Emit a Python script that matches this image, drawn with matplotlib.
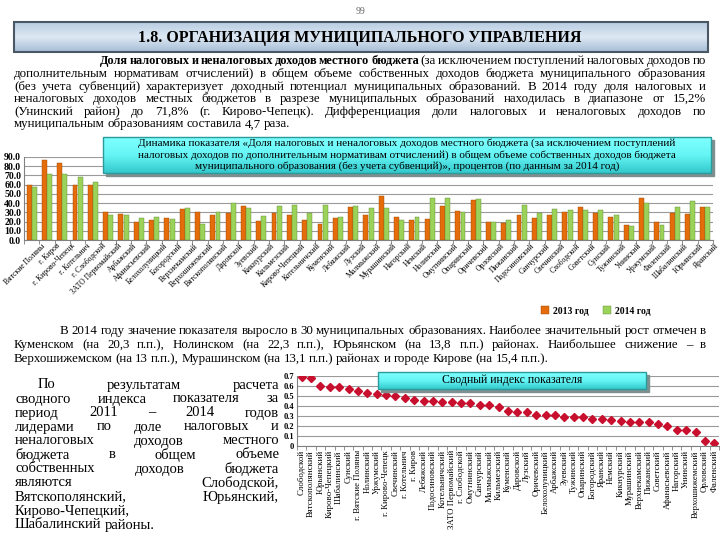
import matplotlib.pyplot as plt
import matplotlib.transforms as mtransforms
import numpy as np

plt.rcParams['font.family'] = ['Liberation Serif', 'DejaVu Serif']

# ---- data: share of tax and non-tax revenues, % ----
districts = ['Вятские Поляны', 'г. Киров', 'г. Кирово-Чепецк', 'г. Котельнич', 'г. Слободской',
             'ЗАТО Первомайский', 'Арбажский', 'Афанасьевский', 'Белохолуницкий', 'Богородский',
             'Верхнекамский', 'Верхошижемский', 'Вятскополянский', 'Даровской', 'Зуевский',
             'Кикнурский', 'Кильмезский', 'Кирово-Чепецкий', 'Котельничский', 'Куменский',
             'Лебяжский', 'Лузский', 'Малмыжский', 'Мурашинский', 'Нагорский', 'Немский',
             'Нолинский', 'Омутнинский', 'Опаринский', 'Оричевский', 'Орловский', 'Пижанский',
             'Подосиновский', 'Санчурский', 'Свечинский', 'Слободской', 'Советский', 'Сунский',
             'Тужинский', 'Унинский', 'Уржумский', 'Фаленский', 'Шабалинский', 'Юрьянский',
             'Яранский']
share_2013 = [60.0, 86.9, 83.8, 59.6, 59.6, 30.0, 27.8, 19.4, 21.8, 23.8, 33.8, 30.0, 27.5,
              29.5, 36.8, 20.5, 28.8, 27.0, 21.6, 17.5, 24.3, 36.0, 27.0, 47.5, 24.8, 21.8,
              23.0, 36.8, 31.5, 43.4, 19.2, 18.8, 27.0, 23.6, 27.0, 30.6, 36.2, 28.8, 24.5,
              16.5, 45.7, 19.0, 28.8, 28.5, 36.0]
share_2014 = [57.5, 71.5, 71.8, 68.6, 63.2, 27.5, 26.6, 23.6, 25.0, 23.0, 34.8, 17.0, 30.5,
              40.2, 34.8, 25.9, 36.7, 37.8, 28.8, 37.8, 24.8, 36.7, 34.5, 34.4, 21.8, 24.8,
              45.3, 45.2, 30.2, 44.2, 19.0, 21.6, 37.8, 28.8, 33.5, 32.4, 32.4, 32.4, 27.0,
              15.2, 39.6, 16.2, 36.0, 42.3, 36.0]

# ---- data: summary index ----
index_names = ['Слободской', 'Вятскополянский', 'Юрьянский', 'Кирово-Чепецкий', 'Шабалинский',
               'Сунский', 'г. Вятские Поляны', 'Нолинский', 'Уржумский', 'г. Кирово-Чепецк',
               'Свечинский', 'г. Котельнич', 'г. Киров', 'Лебяжский', 'Подосиновский',
               'Котельничский', 'ЗАТО Первомайский', 'г. Слободской', 'Омутнинский', 'Санчурский',
               'Малмыжский', 'Кильмезский', 'Куменский', 'Даровской', 'Лузский', 'Оричевский',
               'Белохолуницкий', 'Арбажский', 'Зуевский', 'Тужинский', 'Опаринский', 'Богородский',
               'Яранский', 'Немский', 'Кикнурский', 'Мурашинский', 'Верхнекамский', 'Пижанский',
               'Советский', 'Афанасьевский', 'Нагорский', 'Унинский', 'Верхошижемский',
               'Орловский', 'Фаленский']
index_values = [0.687, 0.677, 0.603, 0.587, 0.587, 0.567, 0.553, 0.533, 0.52, 0.51, 0.503,
                0.483, 0.46, 0.453, 0.45, 0.443, 0.443, 0.427, 0.427, 0.41, 0.41, 0.393, 0.35,
                0.343, 0.343, 0.31, 0.31, 0.31, 0.293, 0.293, 0.287, 0.267, 0.267, 0.26, 0.253,
                0.237, 0.237, 0.237, 0.22, 0.203, 0.16, 0.16, 0.143, 0.053, 0.033]

W, H = 720, 540
fig = plt.figure(figsize=(7.2, 5.4), dpi=100)


def rect(x0, y0, x1, y1):
    # pixel box (top-left origin) -> figure fraction
    return [x0 / W, 1 - y1 / H, (x1 - x0) / W, (y1 - y0) / H]


# bar chart
ax1 = fig.add_axes(rect(24, 157, 713, 240))
x = np.arange(len(districts))
ax1.bar(x - 0.17, share_2013, 0.32, color='#E46C0A', edgecolor='#9c4a08', linewidth=0.3, label='2013 год')
ax1.bar(x + 0.17, share_2014, 0.32, color='#9BD25A', edgecolor='#5f8a30', linewidth=0.3, label='2014 год')
ax1.set_xlim(-0.5, len(districts) - 0.5)
ax1.set_ylim(0, 90)
ax1.set_yticks(np.arange(0, 91, 10))
ax1.set_yticklabels([f'{v:.1f}' for v in range(0, 91, 10)], fontsize=7, fontweight='bold')
ax1.set_xticks(x)
ax1.set_xticklabels([])
# Excel-style placement: label end sits a bit right of the category centre
lbl_tr = ax1.get_xaxis_transform() + mtransforms.ScaledTranslation(0.09, -0.02, fig.dpi_scale_trans)
for i, name in enumerate(districts):
    ax1.text(i, 0, name, transform=lbl_tr, rotation=45, ha='right', va='top',
             rotation_mode='anchor', fontsize=5.5, clip_on=False)
ax1.set_xticks(np.arange(-0.5, len(districts)), minor=True)
ax1.tick_params(axis='x', which='major', length=0)
ax1.tick_params(axis='x', which='minor', length=3, color='#808080')
ax1.tick_params(axis='y', length=0, pad=2)
ax1.set_axisbelow(True)
ax1.grid(axis='y', color='#9a9a9a', linewidth=0.8)
for s in ['top', 'right']:
    ax1.spines[s].set_visible(False)
ax1.spines['left'].set_color('#808080')
ax1.spines['bottom'].set_color('#808080')

fig.legend(loc='center', bbox_to_anchor=(596 / W, 1 - 311 / H), ncol=2, frameon=False,
           prop={'size': 7, 'weight': 'bold'}, handlelength=0.8, handleheight=0.8,
           columnspacing=1.5, handletextpad=0.4)

# summary index chart
ax2 = fig.add_axes(rect(297, 376, 719, 446))
xi = np.arange(len(index_names))
ax2.plot(xi, index_values, linestyle='none', marker='D', markersize=4.5, color='#C8102E')
ax2.set_xlim(-0.5, len(index_names) - 0.5)
ax2.set_ylim(0, 0.7)
ax2.set_yticks(np.arange(0, 0.71, 0.1))
ax2.set_yticklabels(['0', '0.1', '0.2', '0.3', '0.4', '0.5', '0.6', '0.7'], fontsize=6, fontweight='bold')
ax2.set_xticks(xi)
ax2.set_xticklabels(index_names, rotation=90, fontsize=6.3, va='top')
ax2.set_xticks(np.arange(-0.5, len(index_names)), minor=True)
ax2.tick_params(axis='x', which='major', length=0, pad=3)
ax2.tick_params(axis='x', which='minor', length=3, color='#808080')
ax2.tick_params(axis='y', length=0, pad=2)
ax2.set_axisbelow(True)
ax2.grid(axis='y', color='#9a9a9a', linewidth=0.8)
for s in ['top', 'right']:
    ax2.spines[s].set_visible(False)
ax2.spines['left'].set_color('#808080')
ax2.spines['bottom'].set_color('#808080')

# page overlay: boxes and text in pixel coords
ov = fig.add_axes([0, 0, 1, 1])
ov.patch.set_alpha(0)
ov.axis('off')


def gradient(x0, y0, x1, y1, c_top, c_mid, c_bot):
    t = np.linspace(0, 1, 60)[:, None]
    a, b, c = (np.array(plt.matplotlib.colors.to_rgb(k)) for k in (c_top, c_mid, c_bot))
    col = np.where(t < 0.5, a + (b - a) * (t / 0.5), b + (c - b) * ((t - 0.5) / 0.5))
    ov.imshow(col[:, None, :], extent=[x0, x1, y1, y0], aspect='auto', zorder=1)


# section header
gradient(14, 22, 708, 52, '#B9CDE2', '#DDE8F3', '#A6BDD6')
ov.add_patch(plt.Rectangle((14, 22), 694, 30, fill=False, edgecolor='#4a5866', linewidth=1.5, zorder=2))
ov.text(360, 38, '1.8. ОРГАНИЗАЦИЯ МУНИЦИПАЛЬНОГО УПРАВЛЕНИЯ', ha='center', va='center',
        fontsize=11.5, fontweight='bold', zorder=3)
ov.text(360, 12, '99', ha='center', va='center', fontsize=7, color='#666666')

# chart title boxes
ov.add_patch(plt.Rectangle((106, 140), 608, 36, color='#7f8f8f', zorder=1))
gradient(103, 137, 711, 173, '#7FFFFF', '#66F5F5', '#33C9CC')
ov.add_patch(plt.Rectangle((103, 137), 608, 36, fill=False, edgecolor='#2b9a9a', linewidth=1, zorder=2))
for yy, s in [(143.5, 'Динамика показателя «Доля налоговых и неналоговых доходов местного бюджета (за исключением поступлений'),
              (155, 'налоговых доходов по дополнительным нормативам отчислений) в общем объеме собственных доходов бюджета'),
              (166.5, 'муниципального образования (без учета субвенций)», процентов (по данным за 2014 год)')]:
    ov.text(407, yy, s, ha='center', va='center', fontsize=8, zorder=3)

ov.add_patch(plt.Rectangle((381, 375), 268, 17, color='#7f8f8f', zorder=1))
gradient(378, 372, 646, 389, '#7FFFFF', '#66F5F5', '#33C9CC')
ov.add_patch(plt.Rectangle((378, 372), 268, 17, fill=False, edgecolor='#2b9a9a', linewidth=1, zorder=2))
ov.text(512, 380.5, 'Сводный индекс показателя', ha='center', va='center', fontsize=8.5, zorder=3)

renderer = fig.canvas.get_renderer()


def justify(words, x0, x1, y, size, last=False):
    arts = [ov.text(0, y, w, fontsize=sz, fontweight=wt, va='center', zorder=3)
            for w, wt, sz in [(w, wt, size * (0.95 if wt == 'bold' else 1)) for w, wt in words]]
    widths = [a.get_window_extent(renderer).width for a in arts]
    if last or len(arts) == 1:
        gap = size * 0.3
    else:
        gap = (x1 - x0 - sum(widths)) / (len(arts) - 1)
    pos = x0
    for a, w in zip(arts, widths):
        a.set_x(pos)
        pos += w + gap


def words(s, wt='normal'):
    return [(w, wt) for w in s.split()]


fs = 9.3
justify(words('Доля налоговых и неналоговых доходов местного бюджета', 'bold')
        + words('(за исключением поступлений налоговых доходов по'), 100, 706, 61, fs)
para1 = ['дополнительным нормативам отчислений) в общем объеме собственных доходов бюджета муниципального образования',
         '(без учета субвенций) характеризует доходный потенциал муниципальных образований. В 2014 году доля налоговых и',
         'неналоговых доходов местных бюджетов в разрезе муниципальных образований находилась в диапазоне от 15,2%',
         '(Унинский район) до 71,8% (г. Кирово-Чепецк). Дифференциация доли налоговых и неналоговых доходов по',
         'муниципальным образованиям составила 4,7 раза.']
for i, s in enumerate(para1):
    justify(words(s), 14, 706, 74 + 12.6 * i, fs, last=(i == len(para1) - 1))

para2 = ['В 2014 году значение показателя выросло в 30 муниципальных образованиях. Наиболее значительный рост отмечен в',
         'Куменском (на 20,3 п.п.), Нолинском (на 22,3 п.п.), Юрьянском (на 13,8 п.п.) районах. Наибольшее снижение – в',
         'Верхошижемском (на 13 п.п.), Мурашинском (на 13,1 п.п.) районах и городе Кирове (на 15,4 п.п.).']
for i, s in enumerate(para2):
    justify(words(s), 60 if i == 0 else 14, 706, 331 + 14 * i, fs, last=(i == 2))

left = ['По результатам расчета', 'сводного индекса показателя за', 'период 2011 – 2014 годов',
        'лидерами по доле налоговых и', 'неналоговых доходов местного', 'бюджета в общем объеме',
        'собственных доходов бюджета', 'являются Слободской,', 'Вятскополянский, Юрьянский,',
        'Кирово-Чепецкий,', 'Шабалинский районы.']
for i, s in enumerate(left):
    justify(words(s), 38 if i == 0 else 15, 279, 385 + 14 * i, 10.5, last=(i >= 9))

ov.set_xlim(0, W)
ov.set_ylim(H, 0)

fig.savefig('out.png', dpi=100, facecolor='white')
